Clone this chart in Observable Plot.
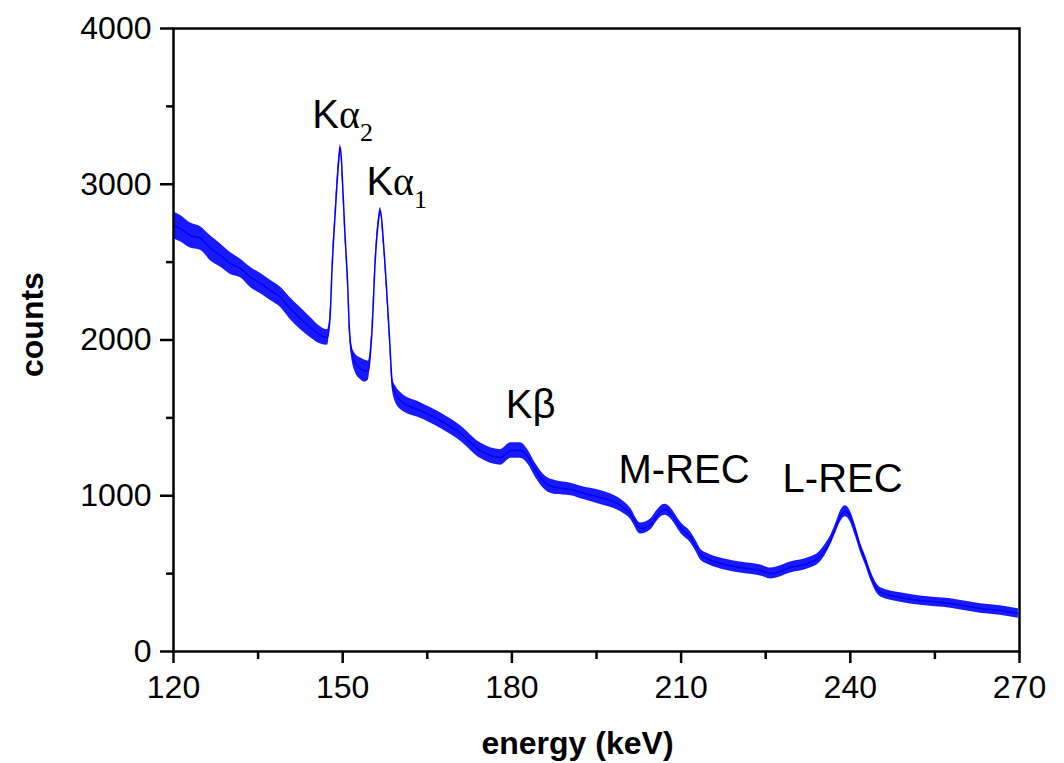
<!DOCTYPE html>
<html><head><meta charset="utf-8">
<script src="https://cdn.jsdelivr.net/npm/d3@7"></script>
<script src="https://cdn.jsdelivr.net/npm/@observablehq/plot@0.6"></script>
<style>body{margin:0;background:#fff} svg{display:block}</style>
</head><body><div id="chart"></div>
<script>
const energy = [120.0,121.2,123.0,124.8,126.6,128.3,130.1,131.9,133.7,135.4,137.2,139.0,140.7,142.5,144.3,146.1,147.3,147.8,148.1,148.7,149.26,149.6,149.96,150.37,150.85,151.2,151.56,152.27,153.2,154.0,154.57,155.2,155.8,156.35,156.7,157.2,157.8,158.3,158.8,159.5,160.2,163.8,167.3,170.9,174.4,178.0,179.8,181.5,182.9,184.2,186.0,187.7,190.5,192.2,195.7,199.3,201.0,202.8,204.6,205.6,206.3,207.2,208.1,209.0,209.9,211.7,212.9,213.4,215.0,217.0,220.5,224.1,225.9,229.4,232.9,234.4,235.5,236.5,237.4,238.3,239.1,239.8,240.9,241.8,242.7,243.6,244.8,245.4,248.9,252.4,257.8,263.1,266.6,269.8];
const counts = [2735,2716,2671,2652,2587,2543,2491,2459,2401,2363,2318,2273,2202,2138,2080,2029,2016,2170,2446,2831,3133,3236,3024,2703,2382,2061,1932,1849,1815,1800,1804,2061,2530,2767,2831,2639,2318,2016,1720,1644,1611,1547,1483,1400,1290,1246,1290,1290,1246,1162,1079,1053,1040,1021,989,937,886,790,815,865,895,910,890,845,796,732,660,625,590,565,539,520,501,539,571,600,650,713,790,870,900,880,777,668,584,490,400,380,347,327,308,276,263,244];
const noise = [85,85,80,75,80,75,70,60,65,65,65,65,70,70,65,55,50,25,20,20,30,20,25,20,20,25,40,60,70,70,60,25,20,25,20,20,20,25,40,55,55,50,50,50,50,50,50,50,45,45,45,45,40,40,45,40,35,35,35,35,35,35,35,35,35,35,35,35,35,35,35,35,35,35,35,35,35,30,30,35,35,35,35,30,30,30,30,30,30,30,30,30,30,30];
const xTicks = [120,150,180,210,240,270];
const xMinor = [135,165,195,225,255];
const yTicks = [0,1000,2000,3000,4000];
const yMinor = [500,1500,2500,3500];
const labelNames = ["Kα2","Kα1","Kβ","M-REC","L-REC"];
const labelEnergy = [144.6,154.2,178.9,198.9,228.0];
const labelCounts = [3364,2928,1496,1079,1021];

const spectrum = energy.map((e,i)=>({e, c:counts[i], lo:counts[i]-noise[i], hi:counts[i]+noise[i]}));
const labels = labelNames.map((n,i)=>({n, e:labelEnergy[i], c:labelCounts[i]}));

const plot = Plot.plot({
  width:1064, height:763, marginLeft:173, marginRight:45, marginTop:28, marginBottom:112,
  style:{fontFamily:"'Liberation Sans', Arial, sans-serif", background:"#fff", color:"#000"},
  x:{domain:[120,270]},
  y:{domain:[0,4000]},
  marks:[
    Plot.areaY(spectrum,{x:"e", y1:"lo", y2:"hi", fill:"#0000ff", fillOpacity:0.9, curve:"monotone-x"}),
    Plot.line(spectrum,{x:"e", y:"c", stroke:"#0000ff", strokeWidth:1.5, curve:"monotone-x"}),
    Plot.axisX({ticks:xTicks, tickSize:12, tickPadding:12, fontSize:32, strokeWidth:2.5, label:null, tickFormat:d=>String(d)}),
    Plot.axisX({ticks:xMinor, tickSize:8, text:null, strokeWidth:2.5, label:null}),
    Plot.axisY({ticks:yTicks, tickSize:13, tickPadding:9, fontSize:32, strokeWidth:2.5, label:null, tickFormat:d=>String(d)}),
    Plot.axisY({ticks:yMinor, tickSize:7, text:null, strokeWidth:2.5, label:null}),
    Plot.frame({strokeWidth:2.5}),
    Plot.text(labels,{x:"e", y:"c", text:"n", textAnchor:"start", lineAnchor:"bottom", fontSize:40, fill:"#000"}),
    Plot.text(["energy (keV)"],{frameAnchor:"bottom", lineAnchor:"bottom", dy:102, dx:-19, fontSize:32, fontWeight:"bold", fill:"#000"}),
    Plot.text(["counts"],{frameAnchor:"left", dx:-141, dy:37, rotate:-90, fontSize:32, fontWeight:"bold", fill:"#000"})
  ]
});

const ns = "http://www.w3.org/2000/svg";
plot.querySelectorAll("text").forEach(t=>{
  const m = /^Kα(\d)$/.exec(t.textContent);
  if (m) {
    t.textContent = "K";
    const a = document.createElementNS(ns,"tspan");
    a.setAttribute("font-family","'Liberation Serif', 'Times New Roman', serif");
    a.textContent = "α";
    t.appendChild(a);
    const s = document.createElementNS(ns,"tspan");
    s.setAttribute("font-family","'Liberation Serif', 'Times New Roman', serif");
    s.setAttribute("font-size","26");
    s.setAttribute("dy","13");
    s.textContent = m[1];
    t.appendChild(s);
  }
});
document.getElementById("chart").appendChild(plot);
</script>
</body></html>
